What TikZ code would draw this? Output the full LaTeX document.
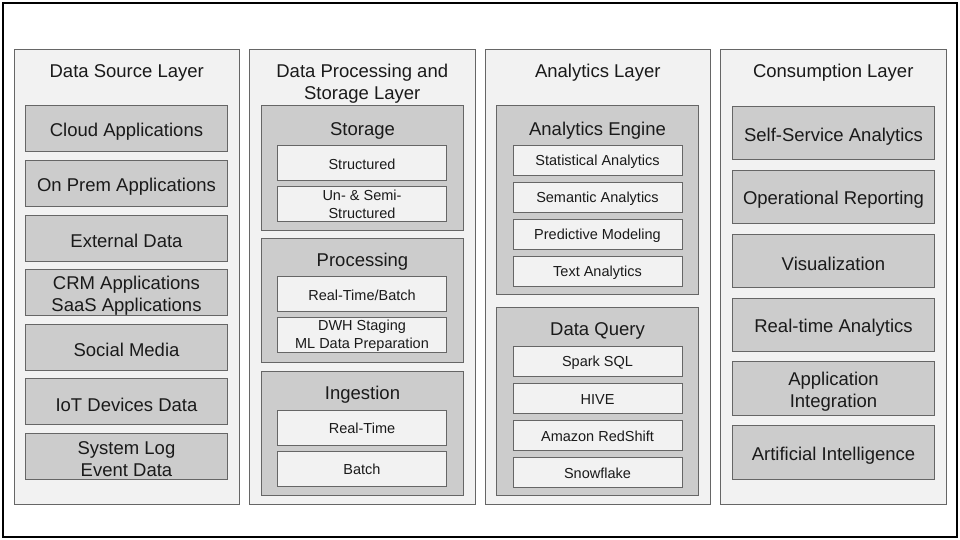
\documentclass[tikz,border=0pt]{standalone}
\usepackage{fontspec}
\setmainfont{Liberation Sans}
\definecolor{lay}{HTML}{F2F2F2}
\definecolor{grp}{HTML}{CCCCCC}
\definecolor{edgec}{HTML}{666666}
\definecolor{txt}{HTML}{1A1A1A}
\newcommand\mkitem[5]{\node[itembox, minimum height=#4pt] (#1) at (#2,#3) {};
  \node[bigtext, yshift=-3pt] (#1t) at (#1.center) {#5};}
\newcommand\mkinner[5]{\node[innerbox, minimum height=#4pt] (#1) at (#2,#3) {};
  \node[smalltext, yshift=-1pt] (#1t) at (#1.center) {#5};}
\begin{document}
\begin{tikzpicture}[x=1pt,y=-1pt,
  every node/.style={inner sep=0pt, outer sep=0pt, text=txt},
  layerbox/.style={draw=edgec, fill=lay, line width=1pt, anchor=north west, minimum width=225.5pt, minimum height=455pt},
  bigtext/.style={font=\fontsize{18.5}{22}\selectfont, align=center},
  smalltext/.style={font=\fontsize{14.5}{18}\selectfont, align=center},
  itembox/.style={draw=edgec, fill=grp, line width=1pt, anchor=north west, minimum width=202pt},
  groupbox/.style={draw=edgec, fill=grp, line width=1pt, anchor=north west, minimum width=202pt},
  innerbox/.style={draw=edgec, fill=lay, line width=1pt, anchor=north west, minimum width=169pt},
  titletext/.style={bigtext}
]
\useasboundingbox (0,0) rectangle (960,540);
\draw[line width=1.2pt, black] (3,3) rectangle (957,537);

% layers
\node[layerbox] (L1) at (14,49.5) {};
\node[layerbox] (L2) at (249.5,49.5) {};
\node[layerbox] (L3) at (485,49.5) {};
\node[layerbox] (L4) at (720.5,49.5) {};

\node[titletext] (T1) at (126.75,73) {Data Source Layer};
\node[titletext] (T2) at (362.25,84) {Data Processing and\\Storage Layer};
\node[titletext] (T3) at (597.75,73) {Analytics Layer};
\node[titletext] (T4) at (833.25,73) {Consumption Layer};

% Data source items
\mkitem{s1}{25.5}{106}{46}{Cloud Applications}
\mkitem{s2}{25.5}{160.5}{46}{On Prem Applications}
\mkitem{s3}{25.5}{215}{46}{External Data}
\mkitem{s4}{25.5}{269.5}{46}{CRM Applications\\SaaS Applications}
\mkitem{s5}{25.5}{324}{46}{Social Media}
\mkitem{s6}{25.5}{378.5}{46}{IoT Devices Data}
\mkitem{s7}{25.5}{433}{46}{System Log\\Event Data}

% Processing and storage
\node[groupbox, minimum height=124.5pt] (gSt) at (261.5,106) {};
\node[titletext] (tSt) at (362.5,130.5) {Storage};
\mkinner{st1}{277.5}{145.5}{35}{Structured}
\mkinner{st2}{277.5}{186}{35.5}{Un- \& Semi-\\Structured}

\node[groupbox, minimum height=124pt] (gPr) at (261.5,238.3) {};
\node[titletext] (tPr) at (362.5,262) {Processing};
\mkinner{pr1}{277.5}{276.7}{35}{Real-Time/Batch}
\mkinner{pr2}{277.5}{317.3}{35}{DWH Staging\\ML Data Preparation}

\node[groupbox, minimum height=124.5pt] (gIn) at (261.5,371) {};
\node[titletext] (tIn) at (362.5,395) {Ingestion};
\mkinner{in1}{277.5}{410.3}{35}{Real-Time}
\mkinner{in2}{277.5}{451.3}{35}{Batch}

% Analytics
\node[groupbox, minimum height=188.3pt] (gAE) at (496.5,106) {};
\node[titletext] (tAE) at (597.5,130.5) {Analytics Engine};
\mkinner{ae1}{513}{145.3}{30}{Statistical Analytics}
\mkinner{ae2}{513}{182.3}{30}{Semantic Analytics}
\mkinner{ae3}{513}{219.3}{30}{Predictive Modeling}
\mkinner{ae4}{513}{256.3}{30}{Text Analytics}

\node[groupbox, minimum height=188pt] (gDQ) at (496.5,307.7) {};
\node[titletext] (tDQ) at (597.5,331) {Data Query};
\mkinner{dq1}{513}{346.3}{30}{Spark SQL}
\mkinner{dq2}{513}{383.3}{30}{HIVE}
\mkinner{dq3}{513}{420.3}{30}{Amazon RedShift}
\mkinner{dq4}{513}{457.3}{30}{Snowflake}

% Consumption items
\mkitem{c1}{732.5}{106.5}{53.5}{Self-Service Analytics}
\mkitem{c2}{732.5}{170.3}{53.5}{Operational Reporting}
\mkitem{c3}{732.5}{234.2}{53.5}{Visualization}
\mkitem{c4}{732.5}{298}{53.5}{Real-time Analytics}
\mkitem{c5}{732.5}{361.8}{53.5}{Application\\Integration}
\mkitem{c6}{732.5}{425.6}{53.5}{Artificial Intelligence}
\end{tikzpicture}
\end{document}
